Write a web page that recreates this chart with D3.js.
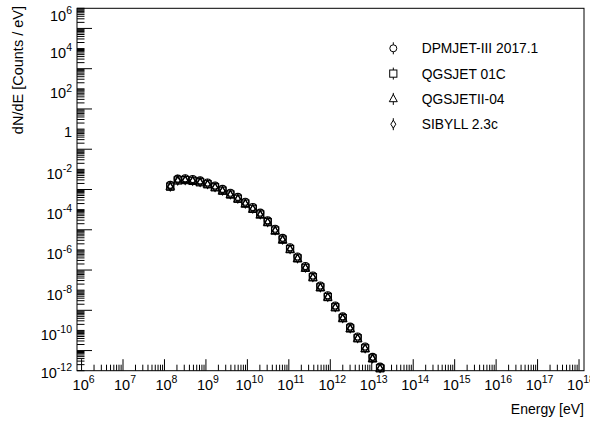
<!DOCTYPE html>
<html>
<head>
<meta charset="utf-8">
<script src="https://cdn.jsdelivr.net/npm/d3@7"></script>
<style>
  body { margin: 0; background: #fff; }
  svg { display: block; font-family: "Liberation Sans", Arial, Helvetica, sans-serif; }
</style>
</head>
<body>
<div id="wrapper"></div>
<script>
// log10 of bin energies [eV]
const logEnergy = [8.14, 8.32, 8.50, 8.68, 8.86, 9.04, 9.22, 9.40, 9.59, 9.77, 9.95, 10.13, 10.31, 10.49, 10.67,
  10.85, 11.03, 11.21, 11.40, 11.58, 11.76, 11.94, 12.12, 12.30, 12.48, 12.66, 12.84, 13.02, 13.20]

// log10 of dN/dE [Counts / eV] per model
const dpmjet = [-2.77, -2.46, -2.44, -2.48, -2.55, -2.65, -2.80, -2.97, -3.16, -3.37, -3.61, -3.87, -4.15, -4.53,
  -4.95, -5.40, -5.87, -6.33, -6.80, -7.27, -7.77, -8.25, -8.76, -9.30, -9.81, -10.30, -10.80, -11.31, -11.80]
const qgsjet01c = [-2.86, -2.55, -2.53, -2.57, -2.64, -2.74, -2.89, -3.06, -3.25, -3.46, -3.70, -3.96, -4.24, -4.62,
  -5.04, -5.49, -5.96, -6.42, -6.89, -7.36, -7.86, -8.34, -8.85, -9.39, -9.90, -10.39, -10.89, -11.39, -11.88]
const qgsjetII04 = [-2.84, -2.53, -2.52, -2.56, -2.63, -2.74, -2.89, -3.07, -3.26, -3.47, -3.71, -3.97, -4.26, -4.63,
  -5.05, -5.50, -5.97, -6.43, -6.90, -7.37, -7.87, -8.35, -8.86, -9.40, -9.91, -10.40, -10.90, -11.40, -11.89]
const sibyll = [-2.87, -2.57, -2.55, -2.58, -2.65, -2.75, -2.90, -3.07, -3.26, -3.47, -3.71, -3.97, -4.25, -4.63,
  -5.05, -5.50, -5.97, -6.43, -6.90, -7.37, -7.87, -8.35, -8.86, -9.40, -9.91, -10.40, -10.90, -11.40, -11.89]

const seriesNames = ["DPMJET-III 2017.1", "QGSJET 01C", "QGSJETII-04", "SIBYLL 2.3c"]
const seriesValues = [dpmjet, qgsjet01c, qgsjetII04, sibyll]
const seriesMarkers = ["circle", "square", "triangle", "diamond"]

const xDecades = d3.range(6, 19)           // 10^6 .. 10^18, all labelled
const yDecades = d3.range(-12, 7)          // 10^-12 .. 10^6
const yLabelDecades = d3.range(-12, 7, 2)  // every second decade labelled

// dimensions
const width = 590
const height = 423
const frame = { left: 77, right: 584, top: 8.3, bottom: 370.7 }

const svg = d3.select("#wrapper").append("svg")
  .attr("width", width)
  .attr("height", height)

const xScale = d3.scaleLog()
  .domain([10 ** 5.89, 10 ** 18.12])
  .range([frame.left, frame.right])

const yScale = d3.scaleLog()
  .domain([1e-12, 1e6])
  .range([frame.bottom, frame.top])

// frame
svg.append("rect")
  .attr("x", frame.left)
  .attr("y", frame.top)
  .attr("width", frame.right - frame.left)
  .attr("height", frame.bottom - frame.top)
  .attr("fill", "none")
  .attr("stroke", "#000")
  .attr("stroke-width", 1)

// x ticks (inside, pointing up)
const xTicks = []
xDecades.forEach(d => {
  d3.range(1, 10).forEach(m => {
    const v = m * 10 ** d
    if (v >= xScale.domain()[0] && v <= xScale.domain()[1]) xTicks.push({ v, major: m === 1 })
  })
})
svg.append("g").selectAll("line")
  .data(xTicks)
  .join("line")
  .attr("x1", d => xScale(d.v))
  .attr("x2", d => xScale(d.v))
  .attr("y1", frame.bottom)
  .attr("y2", d => frame.bottom - (d.major ? 11.5 : 6))
  .attr("stroke", "#000")
  .attr("stroke-width", 1)

const xLabels = svg.append("g").selectAll("text")
  .data(xDecades)
  .join("text")
  .attr("x", d => xScale(10 ** d) + 2)
  .attr("y", frame.bottom + 19.3)
  .attr("text-anchor", "middle")
  .attr("font-size", 14.5)
xLabels.append("tspan").text("10")
xLabels.append("tspan").attr("dy", -6.8).attr("font-size", 10.5).text(d => d)

// y ticks (inside, pointing right)
const yTicks = []
yDecades.forEach(d => {
  d3.range(1, 10).forEach(m => {
    const v = m * 10 ** d
    if (v >= 1e-12 && v <= 1e6) {
      let len = 7.5
      if (m === 1 && Math.abs(d) % 2 === 1) len = 15
      yTicks.push({ v, len })
    }
  })
})
svg.append("g").selectAll("line")
  .data(yTicks)
  .join("line")
  .attr("x1", frame.left)
  .attr("x2", d => frame.left + d.len)
  .attr("y1", d => yScale(d.v))
  .attr("y2", d => yScale(d.v))
  .attr("stroke", "#000")
  .attr("stroke-width", 1)

const yLabelBaseline = d => {
  const ty = yScale(10 ** d)
  if (d === 6) return 20.5
  if (d === -12) return 377.5
  if (d === 0) return ty + 8
  return ty + 9.5
}
const yLabels = svg.append("g").selectAll("text")
  .data(yLabelDecades)
  .join("text")
  .attr("x", 72)
  .attr("y", yLabelBaseline)
  .attr("text-anchor", "end")
  .attr("font-size", 14.5)
yLabels.filter(d => d === 0).text("1")
yLabels.filter(d => d !== 0).append("tspan").text("10")
yLabels.filter(d => d !== 0).append("tspan").attr("dy", -6.8).attr("font-size", 10.5).text(d => d)

// axis titles
svg.append("text")
  .attr("x", frame.right)
  .attr("y", 414)
  .attr("text-anchor", "end")
  .attr("font-size", 14)
  .text("Energy [eV]")

svg.append("text")
  .attr("transform", "translate(22.5, 6) rotate(-90)")
  .attr("text-anchor", "end")
  .attr("font-size", 14.5)
  .text("dN/dE [Counts / eV]")

// markers
const drawMarker = (g, type, x, y) => {
  const common = sel => sel.attr("fill", "none").attr("stroke", "#000").attr("stroke-width", 1.15)
  if (type === "circle") {
    g.append("circle").attr("cx", x).attr("cy", y).attr("r", 3.5).call(common)
  } else if (type === "square") {
    g.append("rect").attr("x", x - 3.6).attr("y", y - 3.6).attr("width", 7.2).attr("height", 7.2).call(common)
  } else if (type === "triangle") {
    g.append("path").attr("d", `M${x},${y - 4.5}L${x + 4},${y + 2.8}L${x - 4},${y + 2.8}Z`).call(common)
  } else {
    g.append("path").attr("d", `M${x},${y - 4}L${x + 2.5},${y}L${x},${y + 4}L${x - 2.5},${y}Z`).call(common)
  }
}

const dataGroup = svg.append("g")
seriesValues.forEach((values, i) => {
  const g = dataGroup.append("g")
  values.forEach((v, j) => {
    drawMarker(g, seriesMarkers[i], xScale(10 ** logEnergy[j]), yScale(10 ** v))
  })
})

// legend
const legendX = 393.3
const legendRowY = [48.3, 73.6, 98.9, 124.2]
const legend = svg.append("g")
seriesNames.forEach((name, i) => {
  const cy = legendRowY[i]
  legend.append("line")
    .attr("x1", legendX).attr("x2", legendX)
    .attr("y1", cy - 6).attr("y2", cy + 6)
    .attr("stroke", "#000").attr("stroke-width", 1)
  const g = legend.append("g")
  drawMarker(g, seriesMarkers[i], legendX, cy)
  g.selectAll("circle, rect, path").attr("fill", "#fff").attr("stroke-width", 1)
  legend.append("text")
    .attr("x", 421.7)
    .attr("y", cy + 5)
    .attr("font-size", 13.8)
    .text(name)
})
</script>
</body>
</html>
